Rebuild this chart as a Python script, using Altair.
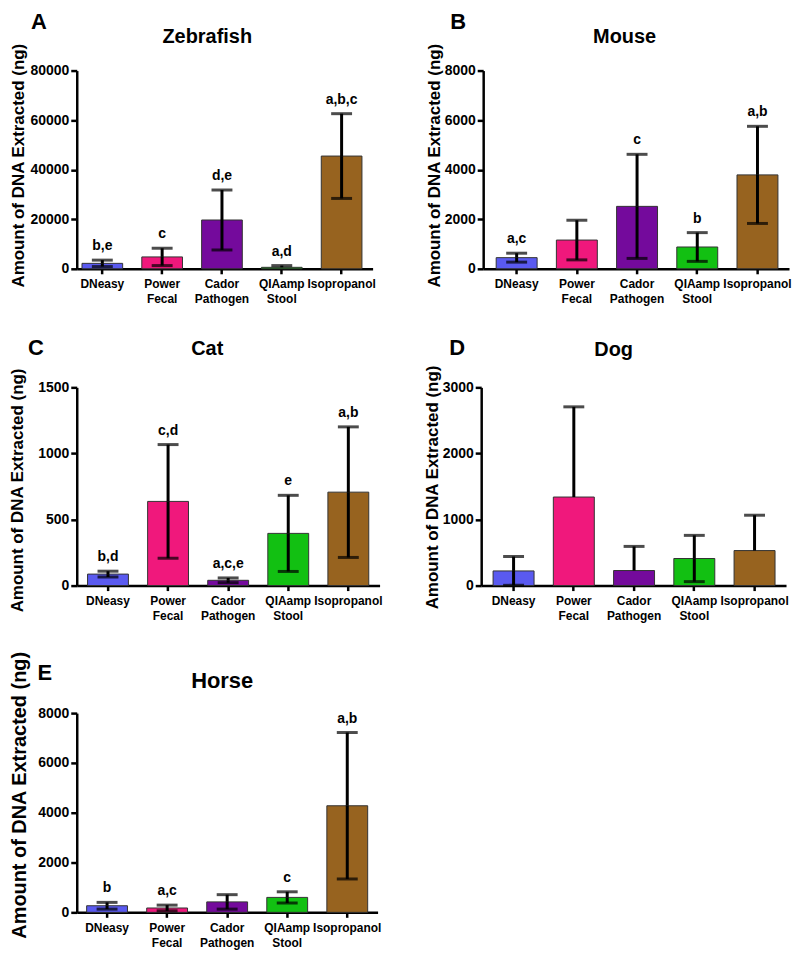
import altair as alt
import pandas as pd

FONT = "Liberation Sans"

methods = ["DNeasy", "Power Fecal", "Cador Pathogen", "QIAamp Stool", "Isopropanol"]
colors = ["#5a5af0", "#f0187c", "#740a9c", "#12c012", "#97631f"]

zebrafish_mean = [2200, 4800, 19700, 600, 45500]
zebrafish_sd = [1300, 3500, 12100, 700, 17100]
zebrafish_sig = ["b,e", "c", "d,e", "a,d", "a,b,c"]

mouse_mean = [450, 1160, 2520, 880, 3790]
mouse_sd = [180, 800, 2100, 580, 1960]
mouse_sig = ["a,c", "", "c", "b", "a,b"]

cat_mean = [87, 637, 40, 395, 707]
cat_sd = [22, 430, 18, 288, 494]
cat_sig = ["b,d", "c,d", "a,c,e", "e", "a,b"]

dog_mean = [222, 1340, 228, 410, 530]
dog_sd = [218, 1365, 365, 350, 535]
dog_sig = ["", "", "", "", ""]

horse_mean = [265, 175, 420, 600, 4280]
horse_sd = [135, 115, 290, 225, 2940]
horse_sig = ["b", "a,c", "", "c", "a,b"]

y_title = "Amount of DNA Extracted (ng)"


def panel(name, letter, mean, sd, sig, ticks, lay):
    df = pd.DataFrame({"method": methods, "mean": mean, "sd": sd, "sig": sig})
    df["hi"] = df["mean"] + df["sd"]
    df["lo"] = df["mean"] - df["sd"]
    ymax = ticks[-1]
    xs = alt.Scale(paddingInner=0.32, paddingOuter=lay["po"], align=lay["align"])
    xaxis = alt.Axis(
        title=None, labelAngle=0, labelFont=FONT, labelFontSize=12, labelFontWeight="bold",
        labelColor="black", labelPadding=5, labelLineHeight=15,
        labelExpr="split(datum.label, ' ')", tickSize=5, tickWidth=2.5, tickColor="black",
        domainColor="black", domainWidth=2.5, grid=False,
    )
    yaxis = alt.Axis(
        values=ticks, format="d", grid=False, labelFont=FONT, labelFontSize=14,
        labelFontWeight="bold", labelColor="black", labelPadding=2, tickSize=6,
        tickWidth=2.5, tickColor="black", domainColor="black", domainWidth=2.5,
        titleFont=FONT, titleFontSize=lay["tfs"], titleFontWeight="bold", titleColor="black",
        titleX=lay["tx"], titleY=lay["ty"], titleBaseline="top", titleAngle=270,
    )

    def X():
        return alt.X("method:N", sort=methods, scale=xs, axis=xaxis)

    def Y(field):
        return alt.Y(field, scale=alt.Scale(domain=[0, ymax], nice=False), axis=yaxis, title=y_title)

    base = alt.Chart(df)
    bars = base.mark_bar(stroke="#333333", strokeWidth=1).encode(
        x=X(), y=Y("mean:Q"),
        color=alt.Color("method:N", scale=alt.Scale(domain=methods, range=colors), legend=None),
    )
    upper = base.mark_rule(color="black", strokeWidth=3).encode(x=X(), y=Y("mean:Q"), y2="hi:Q")
    cap_hi = base.mark_tick(color="black", size=21, thickness=3, orient="horizontal").encode(x=X(), y=Y("hi:Q"))
    low = base.transform_filter("datum.lo >= 0")
    lower = low.mark_rule(color="black", strokeWidth=3).encode(x=X(), y=Y("lo:Q"), y2="mean:Q")
    cap_lo = low.mark_tick(color="black", size=21, thickness=3, orient="horizontal").encode(x=X(), y=Y("lo:Q"))
    labels = base.mark_text(
        font=FONT, fontSize=14, fontWeight="bold", color="black", baseline="alphabetic", dy=-10
    ).encode(x=X(), y=Y("hi:Q"), text="sig:N")
    head = alt.Chart(pd.DataFrame({"t": [name]})).mark_text(
        font=FONT, fontSize=lay["hfs"], fontWeight="bold", color="black", align="center", baseline="alphabetic"
    ).encode(text="t:N", x=alt.value(lay["hx"]), y=alt.value(lay["hy"]))
    let = alt.Chart(pd.DataFrame({"t": [letter]})).mark_text(
        font=FONT, fontSize=22, fontWeight="bold", color="black", align="center", baseline="alphabetic"
    ).encode(text="t:N", x=alt.value(lay["lx"]), y=alt.value(lay["ly"]))
    return alt.layer(bars, upper, lower, cap_hi, cap_lo, labels, head, let).properties(
        width=lay["w"], height=lay["h"]
    )


A = panel("Zebrafish", "A", zebrafish_mean, zebrafish_sd, zebrafish_sig, [0, 20000, 40000, 60000, 80000],
          dict(w=297, h=199, po=0.133, align=0.33, tx=-66, ty=95, tfs=17, hx=131, hy=-28, hfs=20, lx=-38, ly=-42))
B = panel("Mouse", "B", mouse_mean, mouse_sd, mouse_sig, [0, 2000, 4000, 6000, 8000],
          dict(w=307, h=199, po=0.2, align=0.54, tx=-57, ty=95, tfs=17, hx=142, hy=-28, hfs=20, lx=-25, ly=-42))
C = panel("Cat", "C", cat_mean, cat_sd, cat_sig, [0, 500, 1000, 1500],
          dict(w=304, h=199, po=0.18, align=0.5, tx=-67, ty=103, tfs=17, hx=131, hy=-32, hfs=20, lx=-41, ly=-32))
D = panel("Dog", "D", dog_mean, dog_sd, dog_sig, [0, 1000, 2000, 3000],
          dict(w=306, h=199, po=0.19, align=0.52, tx=-57, ty=100, tfs=17, hx=133, hy=-31, hfs=20, lx=-24, ly=-32))
E = panel("Horse", "E", horse_mean, horse_sd, horse_sig, [0, 2000, 4000, 6000, 8000],
          dict(w=302, h=200, po=0.165, align=0.5, tx=-67, ty=82, tfs=20, hx=146, hy=-25, hfs=22, lx=-32, ly=-33))

row1 = alt.hconcat(A, B, spacing=48)
row2 = alt.hconcat(C, D, spacing=40)
top = alt.vconcat(row1, row2, spacing=31)
chart = alt.vconcat(top, E, spacing=28).properties(padding=0).configure_view(stroke="transparent")

chart.save("out.html", embed_options={"renderer": "svg", "actions": False})
